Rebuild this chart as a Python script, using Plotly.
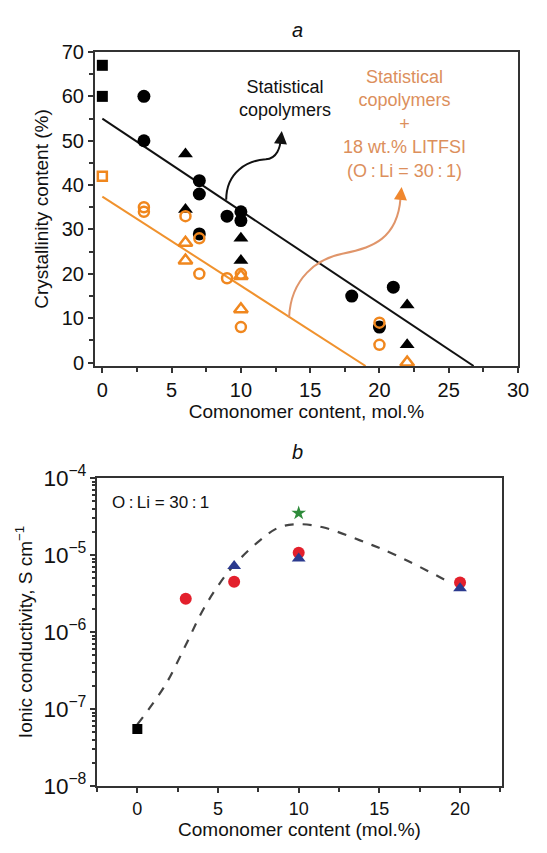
import plotly.graph_objects as go

# ---------- Panel a data ----------
sq_x = [0, 0]
sq_y = [67, 60]
circ_x = [3, 3, 7, 7, 7, 9, 10, 10, 18, 20, 21]
circ_y = [60, 50, 41, 38, 29, 33, 34, 32, 15, 8, 17]
tri_x = [6, 6, 10, 10, 22, 22]
tri_y = [47, 34.5, 28, 23, 13, 4]
osq_x = [0]
osq_y = [42]
ocirc_x = [3, 3, 6, 7, 7, 9, 10, 10, 20, 20]
ocirc_y = [35, 34, 33, 28, 20, 19, 20, 8, 9, 4]
otri_x = [6, 6, 10, 10, 22]
otri_y = [27, 23, 19.5, 12, 0]
fit_black_x = [0, 26.8]
fit_black_y = [55, -0.77]
fit_orange_x = [0, 19.0]
fit_orange_y = [37.4, -0.77]

# ---------- Panel b data ----------
b_sq_x = [0]
b_sq_y = [5.5e-8]
b_red_x = [3, 6, 10, 20]
b_red_y = [2.7e-6, 4.5e-6, 1.07e-5, 4.4e-6]
b_blue_x = [6, 10, 20]
b_blue_y = [7.2e-6, 9.0e-6, 3.7e-6]
b_star_x = [10]
b_star_y = [3.5e-5]
curve_x = [0, 1.7, 3, 4, 5, 6, 7.6, 8.8, 10, 11.5, 13.8, 16, 19.4]
curve_logy = [-7.2, -6.7, -6.17, -5.74, -5.4, -5.13, -4.81, -4.64, -4.6, -4.64, -4.81, -5.0, -5.36]

ORANGE = "#f0871e"
ORANGE_TXT = "#dc8f5c"
FONT = "Liberation Sans, Arial, sans-serif"

# page body has an 8 px margin; figure sized to fit inside the window
W, H, OFF = 531, 837, 8


def PX(px):
    return (px - OFF) / W


def PY(py):
    return 1 - (py - OFF) / H


fig = go.Figure()

# fit lines
fig.add_trace(go.Scatter(x=fit_black_x, y=fit_black_y, mode="lines",
                         line=dict(color="#111", width=2), xaxis="x", yaxis="y"))
fig.add_trace(go.Scatter(x=fit_orange_x, y=fit_orange_y, mode="lines",
                         line=dict(color="#f0922e", width=2), xaxis="x", yaxis="y"))

# black markers
fig.add_trace(go.Scatter(x=sq_x, y=sq_y, mode="markers",
                         marker=dict(symbol="square", size=11, color="#000"), xaxis="x", yaxis="y"))
fig.add_trace(go.Scatter(x=circ_x, y=circ_y, mode="markers",
                         marker=dict(symbol="circle", size=13, color="#000"), xaxis="x", yaxis="y"))
fig.add_trace(go.Scatter(x=tri_x, y=tri_y, mode="markers",
                         marker=dict(symbol="triangle-up", size=13, color="#000"), xaxis="x", yaxis="y"))
# orange open markers
fig.add_trace(go.Scatter(x=osq_x, y=osq_y, mode="markers",
                         marker=dict(symbol="square-open", size=9, color=ORANGE, line=dict(width=2.5)),
                         xaxis="x", yaxis="y"))
fig.add_trace(go.Scatter(x=ocirc_x, y=ocirc_y, mode="markers",
                         marker=dict(symbol="circle-open", size=10, color=ORANGE, line=dict(width=2.5)),
                         xaxis="x", yaxis="y"))
fig.add_trace(go.Scatter(x=otri_x, y=otri_y, mode="markers",
                         marker=dict(symbol="triangle-up-open", size=12, color=ORANGE, line=dict(width=2.5)),
                         xaxis="x", yaxis="y"))

# panel b
fig.add_trace(go.Scatter(x=curve_x, y=[10 ** v for v in curve_logy], mode="lines",
                         line=dict(color="#444", width=2.2, dash="dash", shape="spline"),
                         xaxis="x2", yaxis="y2"))
fig.add_trace(go.Scatter(x=b_sq_x, y=b_sq_y, mode="markers",
                         marker=dict(symbol="square", size=10, color="#000"), xaxis="x2", yaxis="y2"))
fig.add_trace(go.Scatter(x=b_red_x, y=b_red_y, mode="markers",
                         marker=dict(symbol="circle", size=12, color="#e3202c"), xaxis="x2", yaxis="y2"))
fig.add_trace(go.Scatter(x=b_blue_x, y=b_blue_y, mode="markers",
                         marker=dict(symbol="triangle-up", size=12, color="#2b3a8f"), xaxis="x2", yaxis="y2"))
fig.add_trace(go.Scatter(x=b_star_x, y=b_star_y, mode="markers",
                         marker=dict(symbol="star", size=11, color="#2e8b3a"), xaxis="x2", yaxis="y2"))

axis_common = dict(showgrid=False, zeroline=False, showline=True, linecolor="#333",
                   linewidth=2, mirror=True, ticks="outside", tickcolor="#333",
                   tickwidth=1.5, ticklen=5)

fig.update_layout(
    width=W, height=H,
    margin=dict(l=0, r=0, t=0, b=0, autoexpand=False),
    paper_bgcolor="white", plot_bgcolor="white",
    showlegend=False,
    font=dict(family=FONT, color="#111"),
    xaxis=dict(axis_common, domain=[PX(95), PX(518)], range=[-0.53, 30],
               tickvals=[0, 5, 10, 15, 20, 25, 30], tickfont=dict(size=20),
               minor=dict(dtick=2.5, tick0=0, ticks="outside", ticklen=4, tickcolor="#333"),
               title=dict(text="Comonomer content, mol.%", font=dict(size=19), standoff=4),
               anchor="y"),
    yaxis=dict(axis_common, domain=[PY(366), PY(52)], range=[-0.77, 70],
               tickvals=[0, 10, 20, 30, 40, 50, 60, 70], tickfont=dict(size=20),
               minor=dict(dtick=5, tick0=0, ticks="outside", ticklen=4, tickcolor="#333"),
               title=dict(text="Crystallinity content (%)", font=dict(size=19), standoff=8),
               anchor="x"),
    xaxis2=dict(axis_common, domain=[PX(97), PX(502)], range=[-2.5, 22.6],
                tickvals=[0, 5, 10, 15, 20], tickfont=dict(size=18),
                minor=dict(dtick=2.5, tick0=0, ticks="outside", ticklen=4, tickcolor="#333"),
                title=dict(text="Comonomer content (mol.%)", font=dict(size=19), standoff=2),
                anchor="y2"),
    yaxis2=dict(axis_common, type="log", domain=[PY(786), PY(478)], range=[-8, -4],
                dtick=1, exponentformat="power", tickfont=dict(size=18),
                minor=dict(ticks="outside", ticklen=3, tickcolor="#333"),
                title=dict(text="Ionic conductivity, S cm<sup>−1</sup>", font=dict(size=19), standoff=6),
                anchor="x2"),
)

# curvy arrows (panel a)
fig.add_shape(type="path", xref="x", yref="y",
              path="M 8.94,36.7 C 8.94,43 10.5,45.6 11.8,45.8 C 12.6,46 12.85,48.5 12.88,50.5",
              line=dict(color="#111", width=2))
fig.add_shape(type="path", xref="x", yref="y",
              path="M 13.48,10.2 C 13.6,19 15.5,23.5 17.4,24.6 C 19.5,25.8 21.3,28 21.52,37.0",
              line=dict(color="#e0956a", width=2))
fig.add_annotation(x=12.95, y=52.2, ax=12.88, ay=50.0, xref="x", yref="y", axref="x", ayref="y",
                   text="", showarrow=True, arrowhead=2, arrowsize=1.3, arrowwidth=2, arrowcolor="#111")
fig.add_annotation(x=21.6, y=39.6, ax=21.52, ay=36.8, xref="x", yref="y", axref="x", ayref="y",
                   text="", showarrow=True, arrowhead=2, arrowsize=1.3, arrowwidth=2, arrowcolor="#f0872e")

# texts
fig.add_annotation(x=PX(285), y=PY(99), xref="paper", yref="paper", showarrow=False,
                   xanchor="center", yanchor="middle",
                   text="Statistical<br>copolymers", font=dict(size=18, color="#111"),
                   align="center")
fig.add_annotation(x=PX(404), y=PY(124), xref="paper", yref="paper", showarrow=False,
                   xanchor="center", yanchor="middle",
                   text="Statistical<br>copolymers<br>+<br>18 wt.% LITFSI<br>(O\u2009:\u2009Li = 30\u2009:\u20091)",
                   font=dict(size=18, color=ORANGE_TXT), align="center")
fig.add_annotation(x=PX(297), y=PY(30), xref="paper", yref="paper", showarrow=False,
                   xanchor="center", yanchor="middle",
                   text="<i>a</i>", font=dict(size=20, color="#111"))
fig.add_annotation(x=PX(297), y=PY(452), xref="paper", yref="paper", showarrow=False,
                   xanchor="center", yanchor="middle",
                   text="<i>b</i>", font=dict(size=20, color="#111"))
fig.add_annotation(x=PX(110), y=PY(502), xref="paper", yref="paper", showarrow=False,
                   xanchor="left", yanchor="middle", text="O\u2009:\u2009Li = 30\u2009:\u20091",
                   font=dict(size=17, color="#111"))

fig.write_html("out.html")
